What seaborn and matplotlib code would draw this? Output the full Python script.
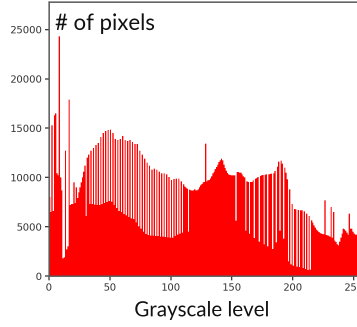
import io
import numpy as np
import pandas as pd
import matplotlib
matplotlib.use("Agg")
import matplotlib.pyplot as plt
import seaborn as sns

# Pixel counts for each grayscale level 0..255
counts = [
    8000, 6500, 15300, 6600, 16300, 16500, 10400, 10200, 24300, 10000, 8700, 1800, 1900, 12700, 2700, 3000,
    17900, 7200, 7300, 7300, 9500, 7400, 9000, 7900, 8500, 9000, 9500, 10000, 10600, 11200, 6100, 12000,
    12300, 7300, 12700, 7300, 13000, 7250, 13300, 7200, 13500, 7200, 14100, 7300, 14500, 7400, 14700, 7500,
    14800, 7600, 14850, 7550, 14500, 7200, 13900, 6900, 13800, 6600, 13900, 6500, 14200, 6300, 13800, 6150,
    13700, 6000, 13800, 5850, 13600, 5800, 13400, 5450, 13400, 5050, 12700, 4800, 12300, 4500, 11900, 4250,
    11500, 4150, 11200, 4100, 10800, 4100, 10900, 4050, 10800, 4050, 10600, 4000, 10400, 4000, 10400, 3950,
    10300, 3920, 10050, 3900, 9750, 3900, 9850, 4050, 9880, 4200, 9880, 4300, 9600, 4400, 9300, 9050,
    8950, 8860, 4500, 8750, 8700, 8650, 8700, 8800, 8700, 8700, 8800, 9000, 9200, 9350, 9500, 9550,
    13440, 9600, 9700, 9750, 9900, 10100, 10400, 10600, 10850, 11060, 11300, 11550, 11740, 11900, 11750, 11300,
    10950, 10700, 10450, 10300, 10250, 10220, 10200, 10200, 10200, 5600, 10550, 10560, 10500, 10500, 10300, 10100,
    10000, 4600, 9600, 9540, 4300, 9540, 9540, 9700, 3850, 9880, 9950, 10050, 3500, 10150, 10220, 10250,
    3200, 10280, 10300, 3000, 10330, 10350, 10380, 2750, 10400, 10650, 3400, 11100, 11600, 4600, 11700, 11400,
    3800, 11000, 10500, 9800, 1500, 8800, 1200, 7300, 1050, 6800, 6750, 950, 6700, 900, 6670, 6650,
    800, 6550, 700, 6330, 600, 6100, 650, 5650, 5400, 5150, 4900, 4700, 4600, 4450, 4370, 4300,
    4250, 4230, 7680, 4150, 4130, 4100, 4000, 7000, 3900, 6500, 3600, 3450, 3200, 3100, 3500, 3900,
    4300, 4800, 4750, 4600, 4400, 4200, 6330, 4800, 4800, 4500, 4300, 4200, 4200, 4200, 4100, 4000,
]
levels = list(range(256))
x_ticks = [0, 50, 100, 150, 200, 250]
y_ticks = [0, 5000, 10000, 15000, 20000, 25000]

df = pd.DataFrame({"level": levels, "count": counts})

sns.set_style("ticks")
plt.rcParams["font.family"] = ["DejaVu Sans"]

W, H = 357, 327
SS = 3  # supersampling factor
fig = plt.figure(figsize=(W / 100, H / 100), dpi=100)
ax = fig.add_axes([49 / W, (H - 276) / H, 312 / W, 274 / H])

sns.histplot(data=df, x="level", weights="count", bins=256, binrange=(0, 256),
             color="#ff0000", alpha=1.0, linewidth=0, edgecolor="none", ax=ax)

ax.set_xlim(0, 256)
ax.set_ylim(0, 27800)
ax.set_xticks(x_ticks)
ax.set_yticks(y_ticks)
ax.set_xlabel("")
ax.set_ylabel("")
ax.tick_params(axis="both", labelsize=7.2, colors="#333333", length=3, width=0.9,
               direction="out", pad=2)
for side in ("left", "top", "right", "bottom"):
    ax.spines[side].set_visible(True)
    ax.spines[side].set_color("#5a5a5a")
    ax.spines[side].set_linewidth(1.1)

fig.text(55 / W, (H - 30) / H, "# of pixels", family=["Lato", "DejaVu Sans"],
         fontsize=16.0, color="#111111", ha="left", va="baseline")
fig.text(202 / W, (H - 316.5) / H, "Grayscale level", family=["Lato", "DejaVu Sans"],
         fontsize=14.8, color="#111111", ha="center", va="baseline")

# Render at high resolution, then box-average down to the final size
buf = io.BytesIO()
fig.savefig(buf, format="png", dpi=100 * SS)
buf.seek(0)
big = plt.imread(buf)[: H * SS, : W * SS, :3]
small = big.reshape(H, SS, W, SS, 3).mean(axis=(1, 3))
plt.imsave("out.png", np.clip(small, 0, 1))
